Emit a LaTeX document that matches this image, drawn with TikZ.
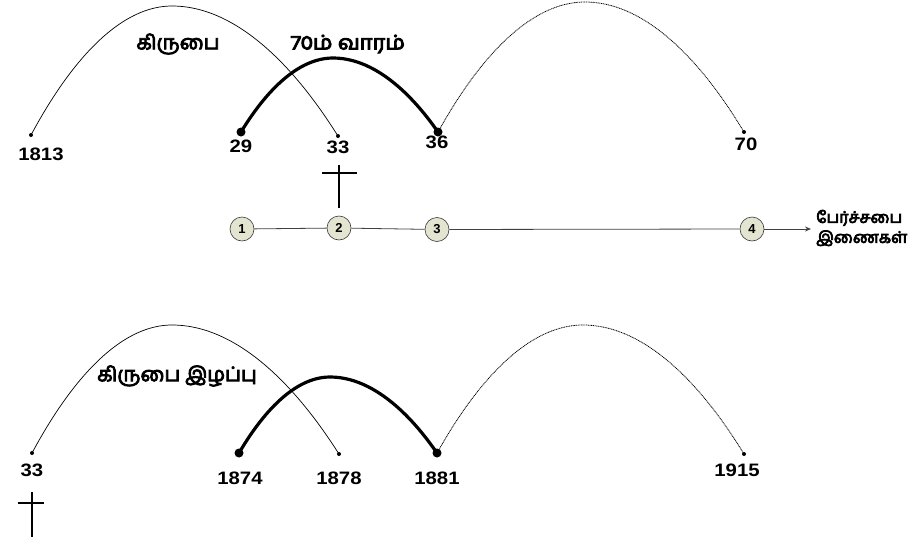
\documentclass[tikz,border=0pt]{standalone}
\usepackage{fontspec}
\setmainfont{Liberation Sans}
\newfontfamily\tamil[Script=Tamil,FakeBold=4.5]{Hind Madurai}
\usetikzlibrary{arrows.meta}
\definecolor{circfill}{HTML}{E4E5D0}
\definecolor{circdraw}{HTML}{3A3A3A}
\newcommand\hsx[1]{\scalebox{1.13}[1]{#1}}
\newcommand\tsx[1]{\scalebox{1.1}[1]{#1}}
\tikzset{
  thinarc/.style={line width=0.7pt},
  thickarc/.style={line width=3.2pt},
  dotarc/.style={line width=0.8pt, dash pattern=on 1pt off 0.7pt},
  smalldot/.style={circle, fill=black, inner sep=0pt, minimum size=4pt},
  bigdot/.style={circle, fill=black, inner sep=0pt, minimum size=9pt},
  numlbl/.style={font=\fontsize{18}{20}\selectfont\bfseries},
  tamlbl/.style={font=\tamil\fontsize{20}{22}\selectfont},
  stage/.style={circle, fill=circfill, draw=circdraw, line width=0.6pt, minimum size=24pt, inner sep=0pt, font=\fontsize{13}{14}\selectfont\bfseries},
  link/.style={line width=0.8pt, draw=black!75},
  crossline/.style={line width=1.6pt}
}
\begin{document}
\begin{tikzpicture}[x=1pt,y=-1pt]
\useasboundingbox (0,0) rectangle (919,541);
% ---------- top ----------
\coordinate (a1813) at (31,135);
\coordinate (a29) at (241,132);
\coordinate (a33) at (338,136);
\coordinate (a36) at (438,132);
\coordinate (a70) at (744,132);
\coordinate (pk1) at (172,6);
\coordinate (pk2) at (333,58);
\coordinate (pk3) at (585,2);
\draw[thinarc] (a1813) parabola bend (pk1) (a33);
\draw[dotarc] (a36) parabola bend (pk3) (a70);
\draw[thickarc] (a29) parabola bend (pk2) (a36);
\node[smalldot] at (a1813) {};
\node[smalldot] at (a33) {};
\node[smalldot] at (a70) {};
\node[bigdot] at (a29) {};
\node[bigdot] at (a36) {};
\node[numlbl] (l1813) at (41,154) {\hsx{1813}};
\node[numlbl] (l29) at (241,146) {\hsx{29}};
\node[numlbl] (l33) at (338,147) {\hsx{33}};
\node[numlbl] (l36) at (437,142) {\hsx{36}};
\node[numlbl] (l70) at (746,144) {\hsx{70}};
\node[tamlbl] (grace) at (178,44) {கிருபை};
\node[tamlbl] (week) at (348,44) {\tsx{70ம் வாரம்}};
% cross top
\coordinate (ct1) at (339,165);
\coordinate (ct2) at (339,208);
\coordinate (ch1) at (322,173);
\coordinate (ch2) at (357,173);
\draw[crossline] (ct1) -- (ct2);
\draw[crossline] (ch1) -- (ch2);
% stages
\node[stage] (s1) at (242,229) {1};
\node[stage] (s2) at (339,228) {2};
\node[stage] (s3) at (437,229.5) {3};
\node[stage] (s4) at (752,229) {4};
\coordinate (arrend) at (811,229);
\draw[link] (s1) -- (s2);
\draw[link] (s2) -- (s3);
\draw[link] (s3) -- (s4);
\draw[link, -{Stealth[length=6pt,width=5pt]}] (s4) -- (arrend);
\node[anchor=west, align=left, inner sep=0pt, font=\tamil\fontsize{16}{20}\selectfont] (church) at (816,228) {பேர்ச்சபை\\இணைகள்};
% ---------- bottom ----------
\coordinate (b33) at (32,453);
\coordinate (b1874) at (239,453);
\coordinate (b1878) at (339,454);
\coordinate (b1881) at (437,453);
\coordinate (b1915) at (744,454);
\coordinate (bpk1) at (172,325);
\coordinate (bpk2) at (330,377);
\coordinate (bpk3) at (583,325);
\draw[thinarc] (b33) parabola bend (bpk1) (b1878);
\draw[dotarc] (b1881) parabola bend (bpk3) (b1915);
\draw[thickarc] (b1874) parabola bend (bpk2) (b1881);
\node[smalldot] at (b33) {};
\node[smalldot] at (b1878) {};
\node[smalldot] at (b1915) {};
\node[bigdot] at (b1874) {};
\node[bigdot] at (b1881) {};
\node[numlbl] (m33) at (32,470) {\hsx{33}};
\node[numlbl] (m1874) at (240,478) {\hsx{1874}};
\node[numlbl] (m1878) at (339,478) {\hsx{1878}};
\node[numlbl] (m1881) at (437,478) {\hsx{1881}};
\node[numlbl] (m1915) at (737,470) {\hsx{1915}};
\node[tamlbl] (loss) at (177,376) {கிருபை இழப்பு};
% cross bottom
\coordinate (cb1) at (32,492);
\coordinate (cb2) at (32,537);
\coordinate (cbh1) at (18,503);
\coordinate (cbh2) at (44,503);
\draw[crossline] (cb1) -- (cb2);
\draw[crossline] (cbh1) -- (cbh2);
\end{tikzpicture}
\end{document}
